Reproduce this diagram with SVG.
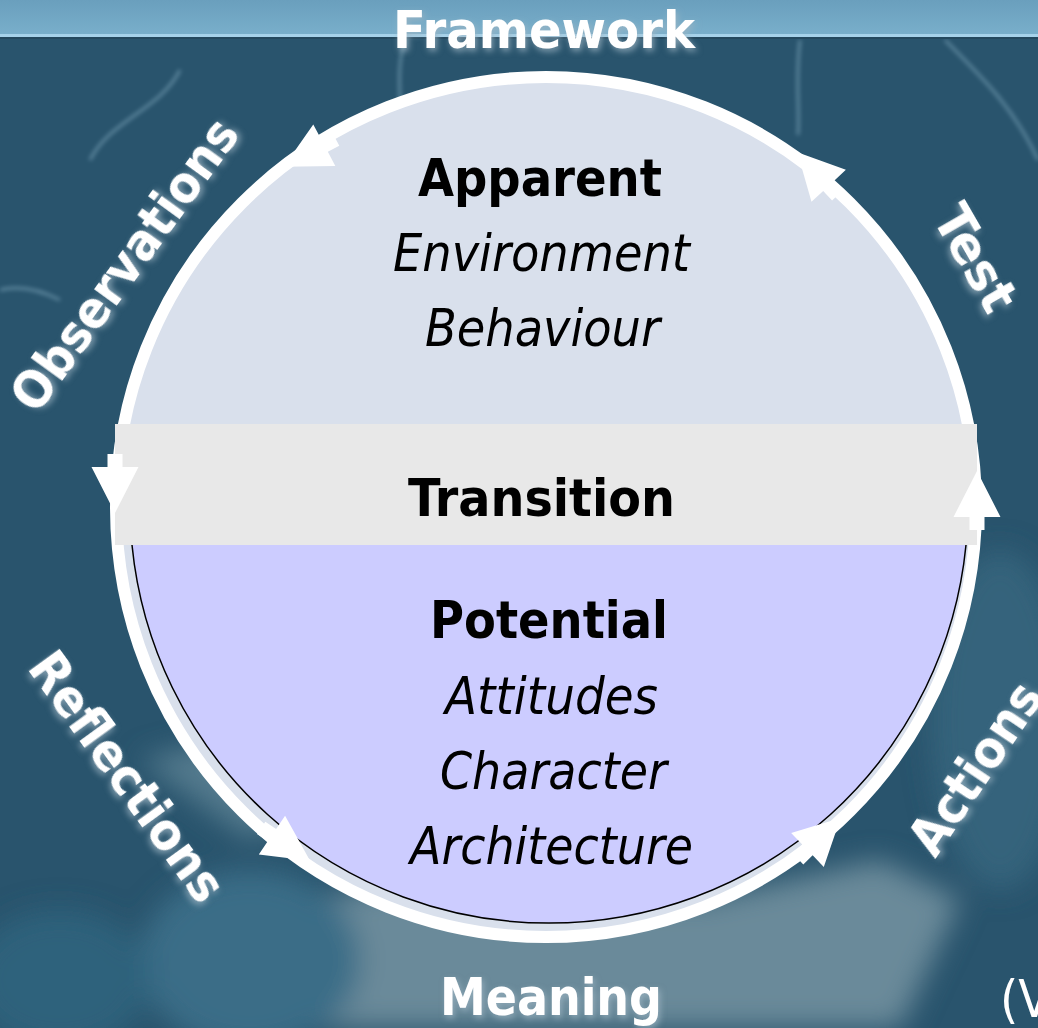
<svg xmlns="http://www.w3.org/2000/svg" width="1038" height="1028" viewBox="0 0 1038 1028">
<defs>
<style>
.lbl{font-family:"DejaVu Sans Condensed","DejaVu Sans",sans-serif;font-stretch:condensed;font-weight:bold;font-size:52px;fill:#ffffff}
.hd{font-family:"DejaVu Sans Condensed","DejaVu Sans",sans-serif;font-stretch:condensed;font-weight:bold;font-size:52px;fill:#000000}
.it{font-family:"DejaVu Sans Condensed","DejaVu Sans",sans-serif;font-stretch:condensed;font-style:italic;font-size:52px;fill:#000000}
.arr{fill:#ffffff}
</style>
<linearGradient id="band" x1="0" y1="0" x2="0" y2="1">
<stop offset="0" stop-color="#6A9FBD"/>
<stop offset="1" stop-color="#79AFCB"/>
</linearGradient>
<filter id="blur" x="-50%" y="-50%" width="200%" height="200%"><feGaussianBlur stdDeviation="14"/></filter>
<filter id="soft" x="-20%" y="-20%" width="140%" height="140%"><feGaussianBlur stdDeviation="2"/></filter>
<filter id="glow" x="-20%" y="-40%" width="140%" height="180%">
<feGaussianBlur in="SourceAlpha" stdDeviation="3" result="b"/>
<feOffset in="b" dx="2" dy="3" result="o"/>
<feFlood flood-color="#9fb6c4" flood-opacity="0.75"/>
<feComposite in2="o" operator="in" result="s"/>
<feMerge><feMergeNode in="s"/><feMergeNode in="SourceGraphic"/></feMerge>
</filter>
<path id="ah" d="M23,0 L-23,-23.5 L-23,-7.5 L-36,-7.5 L-36,7.5 L-23,7.5 L-23,23.5 Z"/>
</defs>

<!-- background -->
<rect x="0" y="0" width="1038" height="1028" fill="#29546D"/>
<g filter="url(#blur)">
<path d="M260,1028 L300,900 L420,880 L700,900 L880,860 L960,900 L900,1028 Z" fill="#6A8A9A"/>
<ellipse cx="250" cy="960" rx="110" ry="90" fill="#3A6D87"/>
<path d="M140,760 L260,730 L330,800 L250,840 Z" fill="#5F8596" opacity="0.8"/>
<ellipse cx="1000" cy="720" rx="70" ry="170" fill="#35637C"/>
<ellipse cx="60" cy="980" rx="90" ry="70" fill="#2F627C"/>
</g>
<g fill="none" stroke="#9cc4d8" stroke-width="3" opacity="0.45" filter="url(#soft)">
<path d="M90,160 C110,120 160,110 180,70"/>
<path d="M405,40 C395,70 402,100 400,125"/>
<path d="M800,40 C795,80 800,110 798,135"/>
<path d="M945,40 C985,80 1015,110 1038,160"/>
<path d="M0,290 C20,285 40,290 60,300"/>
</g>
<rect x="0" y="0" width="1038" height="35" fill="url(#band)"/>
<rect x="0" y="34" width="1038" height="3" fill="#A6D2EA"/>
<rect x="0" y="37" width="1038" height="2" fill="#24495F"/>

<!-- circle body -->
<g id="circle">
<circle cx="546" cy="507" r="430" fill="#D9E0EC" stroke="#ffffff" stroke-width="12"/>
</g>
<g id="potential-zone">
<path d="M132,545 A419,419 0 0 0 966,545 Z" fill="#CCCCFF"/>
<path d="M132,545 A419,419 0 0 0 966,545" fill="none" stroke="#000000" stroke-width="1.5"/>
</g>
<g id="transition-band">
<rect x="115" y="424" width="862" height="121" fill="#E8E8E8"/>
</g>

<!-- node texts -->
<g id="apparent">
<text class="hd" x="418" y="196" textLength="244" lengthAdjust="spacingAndGlyphs">Apparent</text>
<text class="it" x="393" y="271" textLength="297" lengthAdjust="spacingAndGlyphs">Environment</text>
<text class="it" x="425" y="346" textLength="235" lengthAdjust="spacingAndGlyphs">Behaviour</text>
</g>
<g id="transition">
<text class="hd" x="408" y="516" textLength="267" lengthAdjust="spacingAndGlyphs">Transition</text>
</g>
<g id="potential">
<text class="hd" x="430" y="638" textLength="238" lengthAdjust="spacingAndGlyphs">Potential</text>
<text class="it" x="445" y="714" textLength="213" lengthAdjust="spacingAndGlyphs">Attitudes</text>
<text class="it" x="440" y="789" textLength="227" lengthAdjust="spacingAndGlyphs">Character</text>
<text class="it" x="410" y="864" textLength="283" lengthAdjust="spacingAndGlyphs">Architecture</text>
</g>

<!-- connectors (arrowheads on the ring) -->
<g id="connectors">
<use href="#ah" class="arr" transform="translate(304,156) rotate(152)"/>
<use href="#ah" class="arr" transform="translate(115,490) rotate(90)"/>
<use href="#ah" class="arr" transform="translate(291,848) rotate(34)"/>
<use href="#ah" class="arr" transform="translate(824,834) rotate(-44)"/>
<use href="#ah" class="arr" transform="translate(977,494) rotate(-90)"/>
<use href="#ah" class="arr" transform="translate(813,169) rotate(227)"/>
</g>

<!-- outer labels -->
<g id="framework"><text class="lbl" x="393" y="48" textLength="302" lengthAdjust="spacingAndGlyphs" filter="url(#glow)">Framework</text></g>
<g id="meaning"><text class="lbl" x="440" y="1015" textLength="222" lengthAdjust="spacingAndGlyphs" filter="url(#glow)">Meaning</text></g>
<g id="observations"><text class="lbl" text-anchor="middle" transform="translate(139,275) rotate(-54)" textLength="348" lengthAdjust="spacingAndGlyphs" filter="url(#glow)">Observations</text></g>
<g id="test"><text class="lbl" text-anchor="middle" transform="translate(960,267) rotate(60)" textLength="114" lengthAdjust="spacingAndGlyphs" filter="url(#glow)">Test</text></g>
<g id="reflections"><text class="lbl" text-anchor="middle" transform="translate(113,787) rotate(54)" textLength="295" lengthAdjust="spacingAndGlyphs" filter="url(#glow)">Reflections</text></g>
<g id="actions"><text class="lbl" text-anchor="middle" transform="translate(990,778) rotate(-56)" textLength="196" lengthAdjust="spacingAndGlyphs" filter="url(#glow)">Actions</text></g>
<text x="1000" y="1017" font-family="DejaVu Sans Condensed, DejaVu Sans, sans-serif" font-size="52" fill="#ffffff">(V</text>
</svg>
